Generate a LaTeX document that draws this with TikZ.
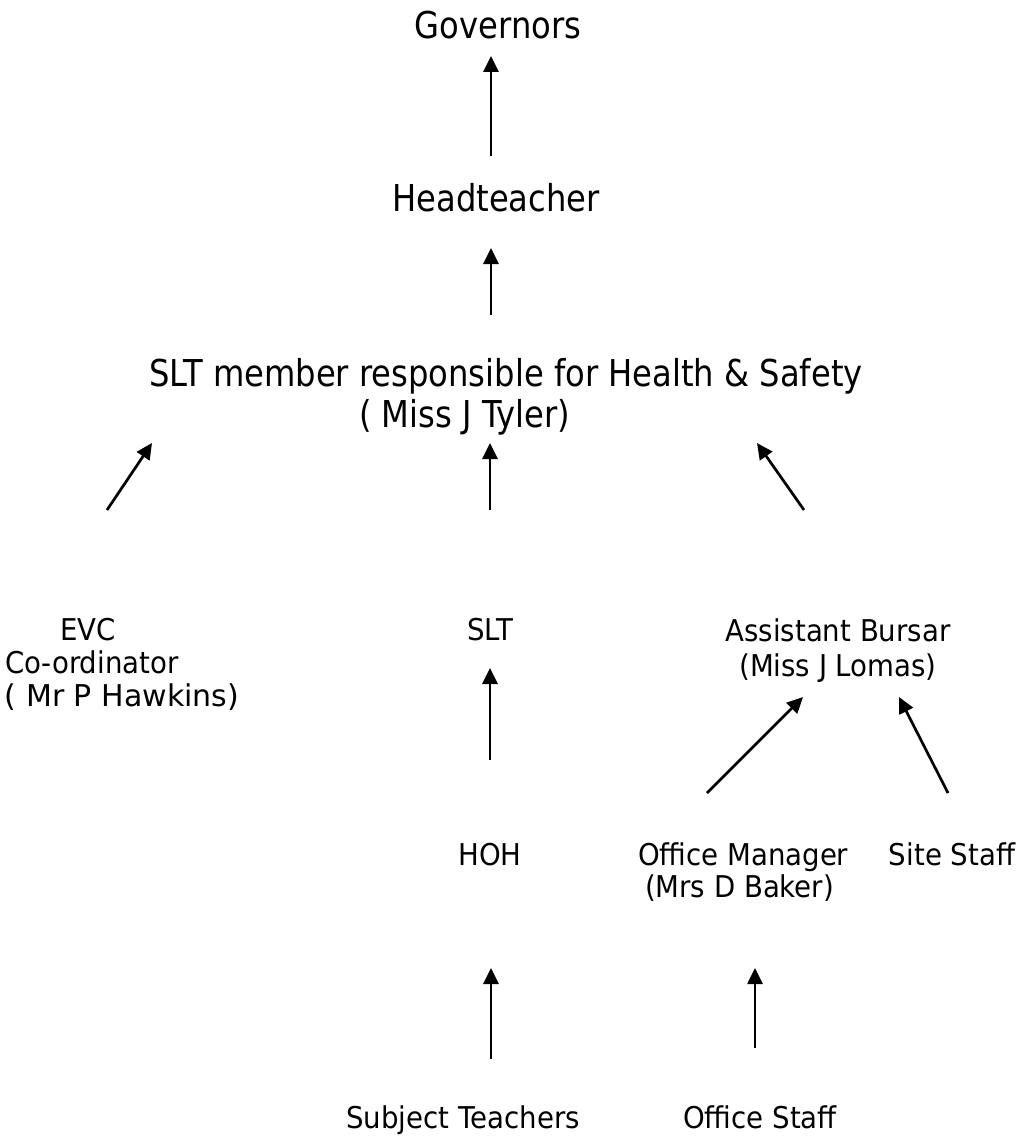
\documentclass[tikz,border=0pt]{standalone}
\usepackage{fontspec}
\setmainfont{DejaVu Sans}
\newfontfamily\fTop[FakeStretch=0.87]{DejaVu Sans}
\newfontfamily\fSm[FakeStretch=0.92]{DejaVu Sans}
\newfontfamily\fWide{DejaVu Sans}
\usetikzlibrary{arrows.meta}
\begin{document}
\begin{tikzpicture}[x=1pt,y=-1pt,
  lbl/.style={inner sep=0pt, outer sep=0pt},
  big/.style={lbl, font=\fTop\fontsize{37}{41}\selectfont},
  small/.style={lbl, font=\fSm\fontsize{30}{33}\selectfont},
  arr/.style={line width=2.7pt, -{Triangle[length=16pt,width=15pt]}}]
\useasboundingbox (0,0) rectangle (1027,1140);

% nodes (multi-line nodes are placed by the baseline of their last line)
\node[big, anchor=base] (gov) at (498,38) {Governors};
\node[big, anchor=base] (head) at (496,211) {Headteacher};
\node[big, anchor=base, align=center] (hs) at (506,427)
  {SLT member responsible for Health \& Safety\\\makebox[294pt][l]{( Miss J Tyler)}};
\node[small, anchor=base west, align=left] (evc) at (5,706)
  {\hspace*{55pt}EVC\\Co-ordinator\\{\fWide ( Mr P Hawkins)}};
\node[small, anchor=base] (slt) at (490,640) {SLT};
\node[small, anchor=base, align=center, font=\fSm\fontsize{30}{35}\selectfont] (ab) at (838,676)
  {Assistant Bursar\\(Miss J Lomas)};
\node[small, anchor=base] (hoh) at (490,865) {HOH};
\node[small, anchor=base west, align=left, font=\fSm\fontsize{30}{32}\selectfont] (om) at (638,897)
  {Office Manager\\\hspace*{7pt}(Mrs D Baker)};
\node[small, anchor=base] (site) at (952,865) {Site Staff};
\node[small, anchor=base] (subj) at (463,1128) {Subject Teachers};
\node[small, anchor=base] (ostaff) at (760,1128) {Office Staff};

% connector end points
\coordinate (a1s) at (491,156); \coordinate (a1e) at (491,56);
\coordinate (a2s) at (491,315); \coordinate (a2e) at (491,248);
\coordinate (a3s) at (107,510); \coordinate (a3e) at (152,443);
\coordinate (a4s) at (490,510); \coordinate (a4e) at (490,443);
\coordinate (a5s) at (804,510); \coordinate (a5e) at (757,443);
\coordinate (a6s) at (490,760); \coordinate (a6e) at (490,668);
\coordinate (a7s) at (707,793); \coordinate (a7e) at (803,697);
\coordinate (a8s) at (948,793); \coordinate (a8e) at (899,697);
\coordinate (a9s) at (491,1059); \coordinate (a9e) at (491,968);
\coordinate (a10s) at (755,1048); \coordinate (a10e) at (755,968);

\draw[arr] (a1s) -- (a1e);
\draw[arr] (a2s) -- (a2e);
\draw[arr] (a3s) -- (a3e);
\draw[arr] (a4s) -- (a4e);
\draw[arr] (a5s) -- (a5e);
\draw[arr] (a6s) -- (a6e);
\draw[arr] (a7s) -- (a7e);
\draw[arr] (a8s) -- (a8e);
\draw[arr] (a9s) -- (a9e);
\draw[arr] (a10s) -- (a10e);
\end{tikzpicture}
\end{document}
